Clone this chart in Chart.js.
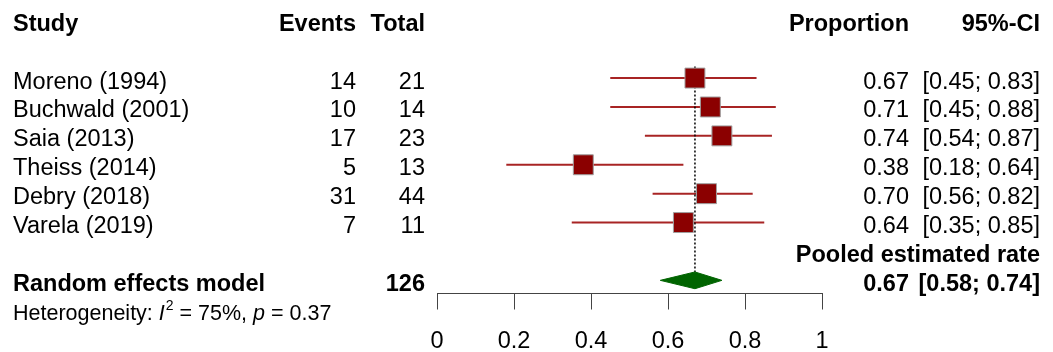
<!DOCTYPE html>
<html>
<head>
<meta charset="utf-8">
<script src="https://cdn.jsdelivr.net/npm/chart.js@4.4.1/dist/chart.umd.min.js"></script>
<style>
  html, body { margin: 0; padding: 0; background: #fff; }
</style>
</head>
<body>
<canvas id="forest" width="1053" height="352"></canvas>
<script>
// study data
var studies = ['Moreno (1994)', 'Buchwald (2001)', 'Saia (2013)', 'Theiss (2014)', 'Debry (2018)', 'Varela (2019)'];
var events = [14, 10, 17, 5, 31, 7];
var totals = [21, 14, 23, 13, 44, 11];
var proportion = [0.67, 0.71, 0.74, 0.38, 0.70, 0.64];
var ciLow = [0.45, 0.45, 0.54, 0.18, 0.56, 0.35];
var ciHigh = [0.83, 0.88, 0.87, 0.64, 0.82, 0.85];

// random effects model: estimate, lower, upper
var pooledEst = 0.67;
var pooledLow = 0.58;
var pooledHigh = 0.74;

var xTicks = [0, 0.2, 0.4, 0.6, 0.8, 1];

var FONT = '"Liberation Sans", Arial, Helvetica, sans-serif';
var FS = 23.5;
var firstRow = 2;           // header is row 0, blank row 1
var pooledRow = firstRow + studies.length + 1;
var halfDiamond = 0.29;     // diamond half height in rows

// vertical layout: row 0 sits at 19.3px, rows 29px apart, axis line at 293.5px
var ROW_H = 29, ROW0 = 19.3, AXIS_Y = 293.5;
var AREA_TOP = FS * 1.2 / 2;  // chart.js keeps half a tick label height above the area
var yMin = (AREA_TOP - ROW0) / ROW_H;
var yMax = (AXIS_Y - ROW0) / ROW_H;

var totalN = totals.reduce(function (a, b) { return a + b; }, 0);

// CI whiskers, one line dataset per study
var ciSets = studies.map(function (s, i) {
  return {
    label: 'ci' + i,
    data: [{ x: ciLow[i], y: firstRow + i }, { x: ciHigh[i], y: firstRow + i }],
    showLine: true,
    borderColor: '#a82424',
    borderWidth: 2,
    pointRadius: 0,
    order: 3
  };
});

var squares = {
  label: 'studies',
  data: proportion.map(function (p, i) { return { x: p, y: firstRow + i }; }),
  pointStyle: 'rect',
  pointRadius: 14.1,
  backgroundColor: '#8b0000',
  borderColor: '#a0a0a0',
  borderWidth: 1,
  order: 0
};

var diamond = {
  label: 'pooled',
  data: [
    { x: pooledLow, y: pooledRow },
    { x: pooledEst, y: pooledRow - halfDiamond },
    { x: pooledHigh, y: pooledRow },
    { x: pooledEst, y: pooledRow + halfDiamond },
    { x: pooledLow, y: pooledRow }
  ],
  showLine: true,
  fill: 'shape',
  backgroundColor: '#006400',
  borderColor: '#006400',
  borderWidth: 1,
  pointRadius: 0,
  order: 1
};

var refLine = {
  label: 'ref',
  data: [{ x: pooledEst, y: firstRow - 0.4 }, { x: pooledEst, y: pooledRow - halfDiamond }],
  showLine: true,
  borderColor: '#000',
  borderWidth: 1.5,
  borderDash: [2, 2],
  pointRadius: 0,
  order: 2
};

function put(ctx, s, x, y, align, bold, size, italic) {
  ctx.font = (italic ? 'italic ' : '') + (bold ? 'bold ' : '') + (size || FS) + 'px ' + FONT;
  ctx.textAlign = align;
  ctx.fillText(s, x, y);
  return ctx.measureText(s).width;
}

var textPlugin = {
  id: 'forestText',
  afterDraw: function (chart) {
    var ctx = chart.ctx;
    var ys = chart.scales.y;
    var off = 10.5;
    function rowY(r) { return ys.getPixelForValue(r) + off; }
    ctx.save();
    ctx.fillStyle = '#000';
    ctx.textBaseline = 'alphabetic';

    // header
    var y0 = rowY(0);
    put(ctx, 'Study', 13, y0, 'left', true);
    put(ctx, 'Events', 356, y0, 'right', true);
    put(ctx, 'Total', 425, y0, 'right', true);
    put(ctx, 'Proportion', 909, y0, 'right', true);
    put(ctx, '95%-CI', 1040, y0, 'right', true);

    studies.forEach(function (s, i) {
      var y = rowY(firstRow + i);
      put(ctx, s, 13, y, 'left', false);
      put(ctx, String(events[i]), 356, y, 'right', false);
      put(ctx, String(totals[i]), 425, y, 'right', false);
      put(ctx, proportion[i].toFixed(2), 909, y, 'right', false);
      put(ctx, '[' + ciLow[i].toFixed(2) + '; ' + ciHigh[i].toFixed(2) + ']', 1040, y, 'right', false);
    });

    put(ctx, 'Pooled estimated rate', 1040, rowY(pooledRow - 1), 'right', true);

    var yp = rowY(pooledRow);
    put(ctx, 'Random effects model', 13, yp, 'left', true);
    put(ctx, String(totalN), 425, yp, 'right', true);
    put(ctx, pooledEst.toFixed(2), 909, yp, 'right', true);
    put(ctx, '[' + pooledLow.toFixed(2) + '; ' + pooledHigh.toFixed(2) + ']', 1040, yp, 'right', true);

    // heterogeneity line with italic I, superscript 2 and italic p
    var yh = rowY(pooledRow + 1);
    var hs = 21.5;
    var x = 13;
    x += put(ctx, 'Heterogeneity: ', x, yh, 'left', false, hs);
    x += put(ctx, 'I', x, yh, 'left', false, hs, true);
    x += put(ctx, '2', x + 1, yh - 10, 'left', false, 14) + 1;
    x += put(ctx, ' = 75%, ', x, yh, 'left', false, hs);
    x += put(ctx, 'p', x, yh, 'left', false, hs, true);
    put(ctx, ' = 0.37', x, yh, 'left', false, hs);

    ctx.restore();
  }
};

new Chart(document.getElementById('forest'), {
  type: 'scatter',
  data: { datasets: [squares, diamond, refLine].concat(ciSets) },
  options: {
    responsive: false,
    animation: false,
    devicePixelRatio: 1,
    layout: { padding: { left: 437, right: 231, top: 0, bottom: 0 } },
    plugins: { legend: { display: false }, tooltip: { enabled: false } },
    scales: {
      x: {
        type: 'linear',
        min: 0,
        max: 1,
        afterBuildTicks: function (axis) {
          axis.ticks = xTicks.map(function (v) { return { value: v }; });
        },
        afterFit: function (axis) { axis.height = 352 - AXIS_Y; },
        grid: { drawOnChartArea: false, tickLength: 16, color: '#444', lineWidth: 1 },
        border: { display: true, color: '#444', width: 1 },
        ticks: {
          padding: 18,
          color: '#000',
          font: { family: FONT, size: FS },
          maxRotation: 0,
          callback: function (v) { return String(+v.toFixed(1)); }
        }
      },
      y: {
        type: 'linear',
        display: false,
        reverse: true,
        min: yMin,
        max: yMax
      }
    }
  },
  plugins: [textPlugin]
});
</script>
</body>
</html>
